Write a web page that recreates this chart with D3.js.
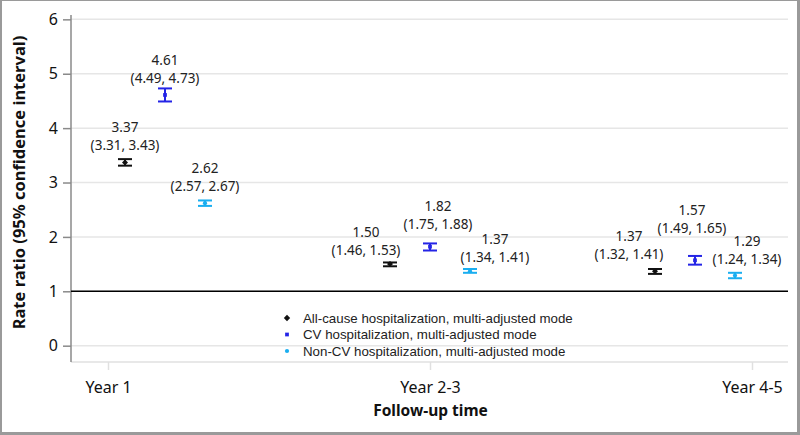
<!DOCTYPE html>
<html>
<head>
<meta charset="utf-8">
<script src="https://cdn.jsdelivr.net/npm/d3@7"></script>
<style>
  body { margin: 0; background: #fff; }
  svg { display: block; }
</style>
</head>
<body>
<div id="chart"></div>
<script>
// Rate ratios by follow-up time

const categories = ['Year 1', 'Year 2-3', 'Year 4-5'];
const seriesNames = [
    'All-cause hospitalization, multi-adjusted mode',
    'CV hospitalization, multi-adjusted mode',
    'Non-CV hospitalization, multi-adjusted mode'
];
const allCauseEst = [3.37, 1.50, 1.37];
const allCauseLo = [3.31, 1.46, 1.32];
const allCauseHi = [3.43, 1.53, 1.41];
const cvEst = [4.61, 1.82, 1.57];
const cvLo = [4.49, 1.75, 1.49];
const cvHi = [4.73, 1.88, 1.65];
const nonCvEst = [2.62, 1.37, 1.29];
const nonCvLo = [2.57, 1.34, 1.24];
const nonCvHi = [2.67, 1.41, 1.34];
const yTicks = [0, 1, 2, 3, 4, 5, 6];

function drawChart() {
    const width = 800, height = 435;
    const plot = {left: 71, right: 788, top: 15, bottom: 362};

    const svg = d3.select('#chart').append('svg')
        .attr('width', width)
        .attr('height', height);

    // outer frame
    svg.append('rect').attr('width', width).attr('height', height).attr('fill', '#9a9a9a');
    svg.append('rect').attr('x', 2).attr('y', 1)
        .attr('width', width - 5).attr('height', height - 4).attr('fill', '#fff');

    const y = d3.scaleLinear().domain([-0.3, 6.08]).range([plot.bottom, plot.top]);
    const xTick = d3.scalePoint().domain(categories).range([108, 752]);
    const xCluster = d3.scalePoint().domain(categories).range([165, 695]);
    const xOff = d3.scalePoint().domain(seriesNames).range([-40, 40]);

    const colors = ['#111111', '#2424e6', '#1aaef0'];
    const symbols = [d3.symbolSquare, d3.symbolSquare, d3.symbolCircle];
    const rot = [45, 0, 0];

    // gridlines
    svg.append('g').selectAll('line')
        .data(yTicks)
        .enter().append('line')
        .attr('x1', plot.left).attr('x2', plot.right)
        .attr('y1', d => y(d)).attr('y2', d => y(d))
        .attr('stroke', '#e6e6e6')
        .attr('stroke-width', 1.5);

    // bottom border of plot area
    svg.append('line')
        .attr('x1', plot.left).attr('x2', plot.right)
        .attr('y1', plot.bottom).attr('y2', plot.bottom)
        .attr('stroke', '#e0e0e0').attr('stroke-width', 1.5);

    // y axis
    const yAxis = svg.append('g')
        .attr('transform', `translate(${plot.left},0)`)
        .call(d3.axisLeft(y).tickValues(yTicks).tickSize(8).tickPadding(5).tickFormat(d3.format('d')));
    yAxis.select('.domain').attr('d', `M0,${plot.top}V${plot.bottom}`).attr('stroke', '#8a8a8a').attr('stroke-width', 1.5);
    yAxis.selectAll('.tick line').attr('stroke', '#8a8a8a').attr('stroke-width', 1.5);
    yAxis.selectAll('.tick text')
        .attr('fill', '#111')
        .style('font-family', '"Noto Sans", sans-serif')
        .style('font-size', '16px');

    // x axis
    const xAxis = svg.append('g')
        .attr('transform', `translate(0,${plot.bottom})`)
        .call(d3.axisBottom(xTick).tickSize(8).tickPadding(12));
    xAxis.select('.domain').remove();
    xAxis.selectAll('.tick line').attr('stroke', '#e0e0e0').attr('stroke-width', 1.5);
    xAxis.selectAll('.tick text')
        .attr('fill', '#111')
        .style('font-family', '"Noto Sans", sans-serif')
        .style('font-size', '16px');

    // reference line at 1
    svg.append('line')
        .attr('x1', plot.left).attr('x2', plot.right)
        .attr('y1', y(1)).attr('y2', y(1))
        .attr('stroke', '#000').attr('stroke-width', 1.5);

    // axis titles
    svg.append('text')
        .attr('x', (plot.left + plot.right) / 2 + 1)
        .attr('y', 416)
        .attr('text-anchor', 'middle')
        .style('font-family', '"Noto Sans", sans-serif')
        .style('font-size', '15.5px')
        .style('font-weight', 'bold')
        .attr('fill', '#111')
        .text('Follow-up time');

    svg.append('text')
        .attr('transform', `translate(25,${(y(0) + y(6)) / 2}) rotate(-90)`)
        .attr('text-anchor', 'middle')
        .style('font-family', '"Noto Sans", sans-serif')
        .style('font-size', '16.5px')
        .style('font-weight', 'bold')
        .attr('fill', '#111')
        .text('Rate ratio (95% confidence interval)');

    // build rows
    const est = [allCauseEst, cvEst, nonCvEst];
    const lo = [allCauseLo, cvLo, nonCvLo];
    const hi = [allCauseHi, cvHi, nonCvHi];
    // label nudges to avoid overlaps [dx, dy] per series per category
    const nudge = [
        [[0, 0], [-24, 3], [-26, 0]],
        [[0, 0], [8, -6], [-3, -15]],
        [[0, 0], [25, 3], [12, 0]]
    ];
    const rows = [];
    seriesNames.forEach((s, si) => {
        categories.forEach((c, ci) => {
            rows.push({
                series: s, si: si, cat: c,
                est: est[si][ci], lo: lo[si][ci], hi: hi[si][ci],
                nudge: nudge[si][ci]
            });
        });
    });

    const capW = 7;
    const g = svg.append('g').selectAll('g')
        .data(rows)
        .enter().append('g')
        .attr('transform', d => `translate(${xCluster(d.cat) + xOff(d.series)},0)`);

    g.append('line')
        .attr('x1', 0).attr('x2', 0)
        .attr('y1', d => y(d.lo)).attr('y2', d => y(d.hi))
        .attr('stroke', d => colors[d.si]).attr('stroke-width', 2);
    g.append('line')
        .attr('x1', -capW).attr('x2', capW)
        .attr('y1', d => y(d.lo)).attr('y2', d => y(d.lo))
        .attr('stroke', d => colors[d.si]).attr('stroke-width', 2);
    g.append('line')
        .attr('x1', -capW).attr('x2', capW)
        .attr('y1', d => y(d.hi)).attr('y2', d => y(d.hi))
        .attr('stroke', d => colors[d.si]).attr('stroke-width', 2);
    g.append('path')
        .attr('transform', d => `translate(0,${y(d.est)}) rotate(${rot[d.si]})`)
        .attr('d', d => d3.symbol().type(symbols[d.si]).size(d.si === 0 ? 18 : 14)())
        .attr('fill', d => colors[d.si]);

    const fmt = d3.format('.2f');
    g.append('text')
        .attr('x', d => d.nudge[0])
        .attr('y', d => y(d.est) - 30 + d.nudge[1])
        .attr('text-anchor', 'middle')
        .style('font-family', '"Noto Sans", sans-serif')
        .style('font-size', '13.5px')
        .attr('fill', '#222')
        .text(d => fmt(d.est));
    g.append('text')
        .attr('x', d => d.nudge[0])
        .attr('y', d => y(d.est) - 12 + d.nudge[1])
        .attr('text-anchor', 'middle')
        .style('font-family', '"Noto Sans", sans-serif')
        .style('font-size', '13.5px')
        .attr('fill', '#222')
        .text(d => `(${fmt(d.lo)}, ${fmt(d.hi)})`);

    // legend
    const legend = svg.append('g')
        .attr('transform', 'translate(287,318)');
    const item = legend.selectAll('g')
        .data(seriesNames)
        .enter().append('g')
        .attr('transform', (d, i) => `translate(0,${i * 16.5})`);
    item.append('path')
        .attr('transform', (d, i) => `rotate(${rot[i]})`)
        .attr('d', (d, i) => d3.symbol().type(symbols[i]).size(i === 0 ? 20 : 14)())
        .attr('fill', (d, i) => colors[i]);
    item.append('text')
        .attr('x', 16)
        .attr('y', 4.5)
        .style('font-family', '"Liberation Sans", Arial, sans-serif')
        .style('font-size', '13.3px')
        .attr('fill', '#222')
        .text(d => d);
}

drawChart();
</script>
</body>
</html>
